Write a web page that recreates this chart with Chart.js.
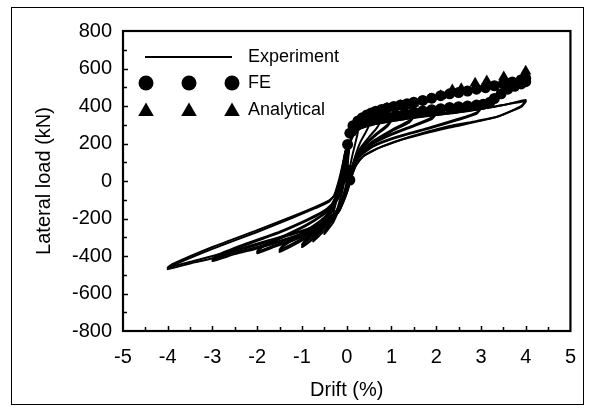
<!DOCTYPE html>
<html>
<head>
<meta charset="utf-8">
<script src="https://cdn.jsdelivr.net/npm/chart.js@4.4.1/dist/chart.umd.min.js"></script>
<style>
  body { margin: 0; background: #fff; }
  #wrap { width: 590px; height: 408px; position: relative; }
</style>
</head>
<body>
<div id="wrap"><canvas id="chart"></canvas></div>
<script>
// Experiment: hysteresis cycles, [drift %, load kN]
const exp025 = [[0,0],[0.03,110],[0.07,190],[0.14,240],[0.25,265],[0.2,210],[0.12,130],[0.05,50],[-0.03,-40],[-0.12,-115],[-0.25,-185],[-0.2,-140],[-0.12,-75],[-0.05,0],[0.02,110]]
const exp050 = [[0.06,200],[0.14,255],[0.3,282],[0.5,300],[0.43,262],[0.3,205],[0.2,140],[0.1,60],[0.02,-25],[-0.07,-95],[-0.17,-150],[-0.3,-220],[-0.5,-283],[-0.43,-245],[-0.32,-190],[-0.24,-115],[-0.17,-40],[-0.09,60],[-0.02,160]]
const exp075 = [[0.09,235],[0.2,275],[0.45,298],[0.75,318],[0.67,282],[0.5,235],[0.3,175],[0.18,110],[0.1,50],[0.02,-30],[-0.07,-100],[-0.16,-150],[-0.3,-205],[-0.5,-265],[-0.75,-322],[-0.67,-290],[-0.5,-235],[-0.35,-175],[-0.25,-105],[-0.18,-30],[-0.1,60],[-0.03,160]]
const exp100 = [[0.09,240],[0.2,278],[0.5,302],[0.75,318],[1.0,335],[0.91,300],[0.65,250],[0.4,195],[0.25,145],[0.15,90],[0.07,25],[-0.02,-50],[-0.1,-110],[-0.2,-160],[-0.35,-210],[-0.6,-275],[-0.8,-318],[-1.0,-352],[-0.9,-318],[-0.65,-255],[-0.42,-190],[-0.3,-125],[-0.2,-45],[-0.11,55],[-0.03,160]]
const exp100b = [[0.06,230],[0.2,270],[0.5,295],[0.75,310],[1.0,325],[0.91,292],[0.65,243],[0.4,188],[0.25,140],[0.12,80],[0.03,5],[-0.06,-65],[-0.15,-125],[-0.3,-185],[-0.55,-255],[-0.8,-305],[-1.0,-340],[-0.9,-308],[-0.65,-248],[-0.42,-185],[-0.28,-130],[-0.18,-70],[-0.1,10],[-0.02,110],[0.03,190]]
const exp150 = [[0.09,245],[0.2,282],[0.5,305],[1.0,330],[1.5,355],[1.4,322],[1.0,272],[0.6,215],[0.35,165],[0.2,115],[0.1,50],[0.02,-30],[-0.07,-100],[-0.17,-155],[-0.3,-200],[-0.6,-262],[-1.0,-318],[-1.5,-378],[-1.4,-345],[-1.0,-285],[-0.6,-220],[-0.38,-165],[-0.28,-105],[-0.19,-30],[-0.1,60],[-0.02,160]]
const exp150b = [[0.08,240],[0.2,278],[0.5,300],[1.0,322],[1.5,345],[1.4,313],[1.0,265],[0.6,208],[0.35,160],[0.18,100],[0.07,30],[-0.03,-50],[-0.12,-115],[-0.25,-175],[-0.5,-240],[-1.0,-308],[-1.5,-368],[-1.4,-336],[-1.0,-278],[-0.6,-214],[-0.38,-160],[-0.25,-105],[-0.15,-30],[-0.07,60],[0.0,160]]
const exp200 = [[0.09,245],[0.22,285],[0.6,308],[1.0,325],[1.5,345],[2.0,370],[1.9,338],[1.5,298],[1.0,252],[0.6,205],[0.35,160],[0.2,110],[0.1,45],[0.02,-35],[-0.07,-105],[-0.17,-160],[-0.35,-210],[-0.7,-265],[-1.2,-318],[-1.6,-350],[-2.0,-385],[-1.9,-355],[-1.4,-298],[-0.9,-238],[-0.55,-185],[-0.32,-140],[-0.18,-90],[-0.08,-15],[0.0,80],[0.05,170]]
const exp200b = [[0.06,235],[0.2,278],[0.6,302],[1.0,318],[1.5,338],[2.0,360],[1.9,330],[1.5,292],[1.0,246],[0.6,200],[0.35,155],[0.18,95],[0.07,25],[-0.03,-55],[-0.13,-120],[-0.3,-185],[-0.7,-258],[-1.2,-310],[-1.6,-342],[-2.0,-376],[-1.9,-347],[-1.4,-292],[-0.9,-233],[-0.55,-180],[-0.33,-135],[-0.22,-80],[-0.13,0],[-0.05,100],[0.02,190]]
const exp300 = [[0.1,250],[0.25,290],[0.7,315],[1.3,335],[2.0,358],[2.5,375],[3.0,395],[2.9,365],[2.5,332],[1.8,282],[1.1,235],[0.6,190],[0.33,145],[0.18,95],[0.09,35],[0.0,-40],[-0.1,-110],[-0.2,-165],[-0.4,-215],[-0.8,-268],[-1.4,-318],[-2.0,-360],[-2.5,-390],[-3.0,-427],[-2.9,-403],[-2.3,-345],[-1.5,-275],[-0.9,-212],[-0.55,-170],[-0.32,-130],[-0.18,-80],[-0.08,-5],[0.0,90],[0.05,180]]
const exp300b = [[0.08,245],[0.25,285],[0.7,310],[1.3,330],[2.0,352],[2.5,368],[3.0,388],[2.9,358],[2.5,326],[1.8,277],[1.1,230],[0.6,185],[0.33,140],[0.16,85],[0.06,15],[-0.04,-60],[-0.14,-125],[-0.3,-180],[-0.7,-250],[-1.4,-312],[-2.0,-352],[-2.5,-382],[-3.0,-418],[-2.9,-395],[-2.3,-338],[-1.5,-270],[-0.9,-207],[-0.55,-165],[-0.35,-128],[-0.24,-80],[-0.15,0],[-0.06,100],[0.01,185]]
const exp400 = [[0.1,258],[0.28,295],[0.8,320],[1.5,340],[2.2,358],[3.0,385],[3.5,405],[4.0,432],[3.9,400],[3.4,345],[2.8,315],[2.3,293],[1.4,235],[0.8,185],[0.4,138],[0.22,90],[0.12,30],[0.03,-45],[-0.07,-110],[-0.18,-165],[-0.4,-210],[-0.9,-262],[-1.6,-312],[-2.3,-362],[-3.0,-412],[-3.5,-440],[-4.0,-470],[-3.9,-452],[-3.0,-362],[-2.0,-272],[-1.2,-195],[-0.7,-145],[-0.4,-112],[-0.28,-75],[-0.18,0],[-0.09,90],[-0.01,180]]
const exp400b = [[0.1,252],[0.3,295],[0.9,322],[1.6,342],[2.4,362],[3.2,392],[4.0,425],[3.9,395],[3.3,338],[2.3,285],[1.3,225],[0.7,175],[0.35,128],[0.2,80],[0.1,20],[0.01,-55],[-0.09,-115],[-0.2,-170],[-0.45,-215],[-1.0,-265],[-1.8,-320],[-2.6,-375],[-3.4,-425],[-4.0,-462],[-3.9,-444],[-3.0,-352],[-2.0,-262],[-1.2,-188],[-0.7,-138],[-0.4,-105],[-0.2,-60],[-0.08,20],[0.0,100]]

// FE results (circles)
const feUpper = [[0.0,60],[0.07,5],[0.02,195],[0.07,255],[0.14,295],[0.25,320],[0.35,338],[0.45,352],[0.55,363],[0.65,372],[0.78,382],[0.9,390],[1.05,398],[1.2,405],[1.35,412],[1.5,420],[1.7,430],[1.9,442],[2.1,455],[2.3,465],[2.5,472],[2.7,480],[2.9,490],[3.1,498],[3.3,508],[3.5,518],[3.7,528],[3.9,540],[4.0,548]]
const feLower = [[4.0,530],[3.9,518],[3.75,505],[3.6,490],[3.45,465],[3.3,440],[3.2,420],[3.05,410],[2.9,405],[2.7,400],[2.5,396],[2.3,392],[2.1,386],[1.9,380],[1.7,374],[1.5,368],[1.3,360],[1.1,352],[0.9,345],[0.7,336],[0.5,325],[0.35,310],[0.2,290]]

// Analytical (triangles)
const analytical = [[0.1,260],[0.3,325],[0.6,362],[0.9,388],[1.2,402],[1.5,415],[1.85,435],[2.1,455],[2.36,485],[2.56,492],[2.87,522],[3.13,533],[3.51,555],[4.0,585]]

const expCycles = [exp025, exp050, exp075, exp100, exp100b, exp150, exp150b, exp200, exp200b, exp300, exp300b, exp400, exp400b]

const FONT = "'Liberation Sans', Arial, sans-serif"
const toPts = arr => arr.map(p => ({ x: p[0], y: p[1] }))

let datasets = expCycles.map(c => ({
	data: toPts(c),
	showLine: true,
	borderColor: '#000',
	borderWidth: 2,
	pointRadius: 0,
	tension: 0.15,
}))

datasets.push({
	data: toPts(feUpper.concat(feLower)),
	showLine: false,
	pointStyle: 'circle',
	pointRadius: 5.5,
	backgroundColor: '#000',
	borderWidth: 0,
})
datasets.push({
	data: toPts(analytical),
	showLine: false,
	pointStyle: 'triangle',
	pointRadius: 6.5,
	backgroundColor: '#000',
	borderWidth: 0,
})

// frame, inward ticks and the legend box
const decor = {
	id: 'decor',
	afterDraw(chart) {
		const ctx = chart.ctx
		const { left, top, right, bottom } = chart.chartArea
		const xs = chart.scales.x, ys = chart.scales.y
		ctx.save()
		ctx.strokeStyle = '#000'
		ctx.fillStyle = '#000'

		// ticks
		ctx.lineWidth = 1.5
		ctx.beginPath()
		for (let v = -700; v < 800; v += 100) {
			const py = Math.round(ys.getPixelForValue(v)) + 0.5
			const len = v % 200 === 0 ? 5 : 4
			ctx.moveTo(left, py); ctx.lineTo(left + len, py)
		}
		for (let v = -4.5; v < 5; v += 0.5) {
			const px = Math.round(xs.getPixelForValue(v)) + 0.5
			const len = Number.isInteger(v) ? 5 : 4
			ctx.moveTo(px, bottom); ctx.lineTo(px, bottom - len)
		}
		ctx.stroke()

		// plot frame
		ctx.lineWidth = 2.2
		ctx.strokeRect(left, top, right - left, bottom - top)

		// outer frame
		ctx.lineWidth = 1
		ctx.strokeRect(11.5, 7.5, 572, 397)

		// legend
		ctx.lineWidth = 2
		ctx.beginPath()
		ctx.moveTo(145, 57); ctx.lineTo(232, 57)
		ctx.stroke()
		;[146, 189, 232].forEach(cx => {
			ctx.beginPath()
			ctx.arc(cx, 83, 7.5, 0, Math.PI * 2)
			ctx.fill()
			ctx.beginPath()
			ctx.moveTo(cx, 102.5)
			ctx.lineTo(cx + 7.8, 116)
			ctx.lineTo(cx - 7.8, 116)
			ctx.closePath()
			ctx.fill()
		})
		ctx.font = '18px ' + FONT
		ctx.textBaseline = 'middle'
		ctx.textAlign = 'left'
		ctx.fillText('Experiment', 248, 57)
		ctx.fillText('FE', 248, 83)
		ctx.fillText('Analytical', 248, 110)
		ctx.restore()
	}
}

new Chart(document.getElementById('chart'), {
	type: 'scatter',
	data: { datasets },
	options: {
		responsive: true,
		maintainAspectRatio: false,
		animation: false,
		devicePixelRatio: 1,
		layout: { padding: { left: 0, top: 31, right: 15, bottom: 0 } },
		plugins: {
			legend: { display: false },
			tooltip: { enabled: false },
		},
		scales: {
			x: {
				type: 'linear',
				min: -5,
				max: 5,
				ticks: { stepSize: 1, color: '#000', font: { family: FONT, size: 20 }, padding: 14 },
				grid: { display: false, drawTicks: false },
				border: { display: false },
				title: { display: true, text: 'Drift (%)', color: '#000', font: { family: FONT, size: 20 }, padding: { top: 0, bottom: 6 } },
				afterFit: s => { s.height = 77 },
			},
			y: {
				type: 'linear',
				min: -800,
				max: 800,
				ticks: { stepSize: 200, color: '#000', font: { family: FONT, size: 20 }, padding: 11 },
				grid: { display: false, drawTicks: false },
				border: { display: false },
				title: { display: true, text: 'Lateral load (kN)', color: '#000', font: { family: FONT, size: 20 }, padding: { top: 32, bottom: 0 } },
				afterFit: s => { s.width = 123 },
			},
		},
	},
	plugins: [decor],
})
</script>
</body>
</html>
